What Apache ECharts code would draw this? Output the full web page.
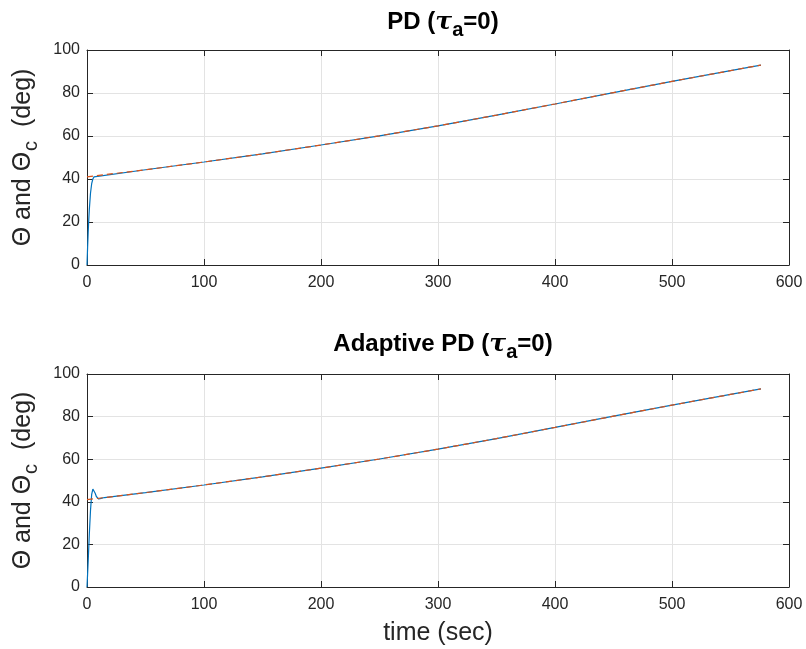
<!DOCTYPE html>
<html><head><meta charset="utf-8">
<script src="https://cdn.jsdelivr.net/npm/echarts@6/dist/echarts.min.js"></script>
<style>html,body{margin:0;padding:0;background:#fff}#c{width:806px;height:649px}</style>
</head><body><div id="c"></div>
<script>
// reference command Θc (deg) vs time (sec)
const refTime  = [0, 50, 100, 150, 200, 250, 300, 350, 400, 450, 500, 550, 576];
const refTheta = [41.0, 44.3, 47.9, 51.7, 55.8, 60.1, 64.7, 69.7, 74.9, 80.2, 85.4, 90.4, 93.0];
// PD response: start-up transient
const pdTime  = [0, 0.5, 1, 1.5, 2, 3, 4, 5, 6, 7];
const pdTheta = [0, 8, 15, 21, 26, 33.5, 37.8, 40.0, 41.0, 41.4];
// Adaptive PD response: start-up transient
const apdTime  = [0, 1, 2, 3, 4, 5, 6, 7, 8, 9, 10, 12, 15];
const apdTheta = [0, 12, 25, 36, 43.5, 46, 45.5, 44, 42.5, 41.6, 41.3, 41.6, 42.0];
const xTicks = [0, 100, 200, 300, 400, 500, 600];
const yTicks = [0, 20, 40, 60, 80, 100];

const FONT = 'Liberation Sans, Arial, Helvetica, sans-serif';
const BLUE = '#0072BD', RED = '#D95319', INK = '#262626';

function pairs(t, v) { return t.map((x, i) => [x, v[i]]); }
function follow(t, v, tEnd) {
  const out = pairs(t, v);
  refTime.forEach((x, i) => { if (x > tEnd) out.push([x, refTheta[i]]); });
  return out;
}

const grids = [
  {left: 87, top: 50, width: 702, height: 215},
  {left: 87, top: 374, width: 702, height: 213}
];

function xAx(g, pos, main) {
  return {
    type: 'value', gridIndex: g, position: pos, min: xTicks[0], max: xTicks[xTicks.length-1], interval: 100,
    axisLine: {show: true, onZero: false, lineStyle: {color: INK, width: 1}},
    axisTick: {show: true, inside: true, length: 6, lineStyle: {color: INK}},
    axisLabel: {show: main, color: INK, fontSize: 16, fontFamily: FONT, margin: 10},
    splitLine: {show: main, lineStyle: {color: '#e3e3e3', width: 1}},
    name: (main && g === 1) ? 'time (sec)' : '',
    nameLocation: 'middle', nameGap: 34,
    nameTextStyle: {color: INK, fontSize: 25, fontFamily: FONT}
  };
}
function yAx(g, pos, main) {
  return {
    type: 'value', gridIndex: g, position: pos, min: yTicks[0], max: yTicks[yTicks.length-1], interval: 20,
    axisLine: {show: true, onZero: false, lineStyle: {color: INK, width: 1}},
    axisTick: {show: true, inside: true, length: 6, lineStyle: {color: INK}},
    axisLabel: {show: main, color: INK, fontSize: 16, fontFamily: FONT, margin: 7},
    splitLine: {show: main, lineStyle: {color: '#e3e3e3', width: 1}},
    name: main ? '{n|Θ and Θ}{s|c}{n|  (deg)}' : '',
    nameLocation: 'middle', nameGap: 46, nameRotate: 90,
    nameTextStyle: {
      color: INK, fontFamily: FONT,
      rich: {
        n: {fontSize: 25, color: INK, fontFamily: FONT},
        s: {fontSize: 20, color: INK, fontFamily: FONT, padding: [16, 0, 0, 1]}
      }
    }
  };
}

const titleRich = {
  b: {fontSize: 24, fontWeight: 'bold', color: '#000', fontFamily: FONT},
  t: {fontSize: 25, fontWeight: 'bold', fontStyle: 'italic', color: '#000', fontFamily: 'DejaVu Serif, serif'},
  s: {fontSize: 20, fontWeight: 'bold', color: '#000', fontFamily: FONT, padding: [16, 0, 0, 0]}
};

const lineBase = {type: 'line', showSymbol: false, symbol: 'none', animation: false};

const option = {
  backgroundColor: '#fff',
  animation: false,
  title: [
    {text: '{b|PD (}{t|τ}{s|a}{b|=0)}', left: 438, top: -1, textAlign: 'center', textStyle: {rich: titleRich}},
    {text: '{b|Adaptive PD (}{t|τ}{s|a}{b|=0)}', left: 438, top: 321, textAlign: 'center', textStyle: {rich: titleRich}}
  ],
  grid: grids,
  xAxis: [xAx(0, 'bottom', true), xAx(1, 'bottom', true), xAx(0, 'top', false), xAx(1, 'top', false)],
  yAxis: [yAx(0, 'left', true), yAx(1, 'left', true), yAx(0, 'right', false), yAx(1, 'right', false)],
  series: [
    Object.assign({}, lineBase, {xAxisIndex: 0, yAxisIndex: 0, data: follow(pdTime, pdTheta, 7),
      lineStyle: {color: BLUE, width: 1.2}, z: 2}),
    Object.assign({}, lineBase, {xAxisIndex: 0, yAxisIndex: 0, data: pairs(refTime, refTheta),
      lineStyle: {color: RED, width: 1.2, type: [6, 4]}, z: 3}),
    Object.assign({}, lineBase, {xAxisIndex: 1, yAxisIndex: 1, data: follow(apdTime, apdTheta, 15),
      lineStyle: {color: BLUE, width: 1.2}, z: 2}),
    Object.assign({}, lineBase, {xAxisIndex: 1, yAxisIndex: 1, data: pairs(refTime, refTheta),
      lineStyle: {color: RED, width: 1.2, type: [6, 4]}, z: 3})
  ]
};
const chart = echarts.init(document.getElementById('c'), null, {renderer: 'canvas'});
chart.setOption(option);
</script></body></html>
